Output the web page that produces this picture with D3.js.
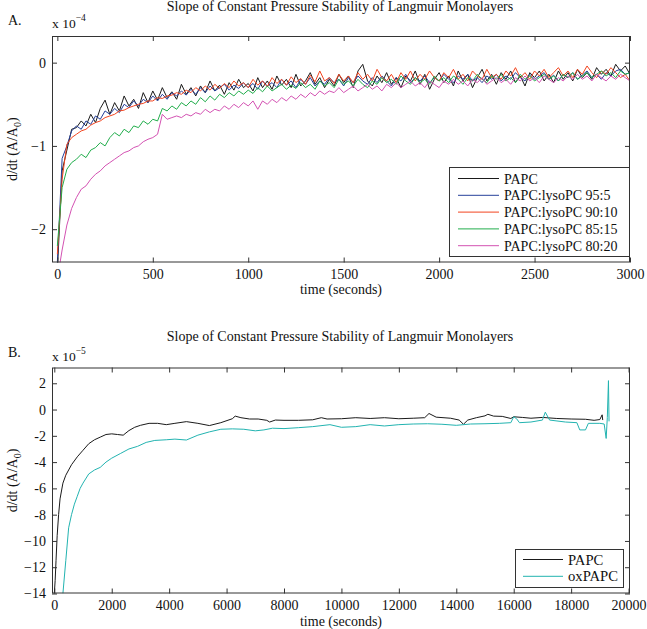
<!DOCTYPE html>
<html><head><meta charset="utf-8">
<script src="https://cdn.jsdelivr.net/npm/d3@7"></script>
<style>
body{margin:0;background:#fff;}
svg{display:block;font-family:"Liberation Serif","Times New Roman",serif;}
</style></head>
<body>
<svg id="c" width="647" height="629"></svg>
<script>
// ---------- Panel A data (units of 1e-4), time step 25 s from 0 to 3000 ----------
const timeA = [0,25,50,75,100,125,150,175,200,225,250,275,300,325,350,375,400,425,450,475,500,525,550,575,600,625,650,675,700,725,750,775,800,825,850,875,900,925,950,975,1000,1025,1050,1075,1100,1125,1150,1175,1200,1225,1250,1275,1300,1325,1350,1375,1400,1425,1450,1475,1500,1525,1550,1575,1600,1625,1650,1675,1700,1725,1750,1775,1800,1825,1850,1875,1900,1925,1950,1975,2000,2025,2050,2075,2100,2125,2150,2175,2200,2225,2250,2275,2300,2325,2350,2375,2400,2425,2450,2475,2500,2525,2550,2575,2600,2625,2650,2675,2700,2725,2750,2775,2800,2825,2850,2875,2900,2925,2950,2975,3000];
const papcA = [-2.5,-1.3,-1.05,-0.80,-0.78,-0.70,-0.76,-0.62,-0.72,-0.55,-0.45,-0.62,-0.48,-0.58,-0.40,-0.52,-0.44,-0.55,-0.36,-0.48,-0.34,-0.45,-0.30,-0.42,-0.35,-0.44,-0.26,-0.38,-0.30,-0.40,-0.28,-0.36,-0.22,-0.34,-0.27,-0.38,-0.24,-0.33,-0.20,-0.30,-0.25,-0.34,-0.18,-0.30,-0.22,-0.32,-0.16,-0.27,-0.20,-0.30,-0.14,-0.28,-0.22,-0.12,-0.26,-0.18,-0.30,-0.20,-0.28,-0.14,-0.24,-0.16,-0.30,-0.10,-0.02,-0.22,-0.28,-0.16,-0.24,-0.12,-0.26,-0.18,-0.30,-0.16,-0.22,-0.10,-0.26,-0.14,-0.32,-0.20,-0.12,-0.24,-0.16,-0.28,-0.10,-0.22,-0.14,-0.30,-0.18,-0.08,-0.22,-0.14,-0.26,-0.12,-0.20,-0.10,-0.24,-0.16,-0.28,-0.12,-0.18,-0.10,-0.22,-0.14,-0.24,-0.10,-0.20,-0.12,-0.22,-0.08,-0.18,-0.12,-0.20,-0.06,-0.14,-0.08,-0.16,-0.02,-0.10,-0.04,-0.14];
const lyso95 = [-2.4,-1.15,-1.0,-0.82,-0.76,-0.80,-0.70,-0.74,-0.64,-0.68,-0.58,-0.62,-0.55,-0.60,-0.50,-0.54,-0.46,-0.52,-0.44,-0.48,-0.40,-0.46,-0.38,-0.44,-0.36,-0.40,-0.34,-0.39,-0.32,-0.38,-0.30,-0.36,-0.28,-0.34,-0.30,-0.26,-0.33,-0.27,-0.31,-0.24,-0.30,-0.25,-0.32,-0.22,-0.28,-0.24,-0.30,-0.20,-0.27,-0.22,-0.30,-0.20,-0.26,-0.18,-0.28,-0.22,-0.26,-0.18,-0.24,-0.20,-0.28,-0.18,-0.24,-0.16,-0.22,-0.26,-0.18,-0.24,-0.16,-0.22,-0.28,-0.18,-0.22,-0.14,-0.24,-0.18,-0.22,-0.16,-0.24,-0.18,-0.22,-0.14,-0.20,-0.24,-0.16,-0.20,-0.14,-0.22,-0.18,-0.24,-0.16,-0.20,-0.14,-0.22,-0.16,-0.20,-0.12,-0.18,-0.22,-0.14,-0.20,-0.16,-0.12,-0.20,-0.15,-0.22,-0.14,-0.18,-0.12,-0.20,-0.15,-0.10,-0.18,-0.14,-0.20,-0.12,-0.16,-0.10,-0.08,-0.14,-0.12];
const lyso90 = [-2.3,-1.4,-0.98,-0.90,-0.86,-0.82,-0.80,-0.75,-0.72,-0.70,-0.66,-0.64,-0.62,-0.58,-0.57,-0.54,-0.52,-0.50,-0.49,-0.46,-0.46,-0.42,-0.43,-0.40,-0.39,-0.36,-0.38,-0.33,-0.36,-0.30,-0.34,-0.28,-0.33,-0.26,-0.31,-0.25,-0.30,-0.22,-0.28,-0.24,-0.30,-0.20,-0.27,-0.22,-0.29,-0.18,-0.25,-0.20,-0.27,-0.17,-0.24,-0.19,-0.26,-0.15,-0.23,-0.10,-0.22,-0.18,-0.25,-0.14,-0.22,-0.16,-0.24,-0.12,-0.20,-0.14,-0.22,-0.08,-0.18,-0.22,-0.14,-0.24,-0.12,-0.20,-0.10,-0.22,-0.14,-0.20,-0.10,-0.18,-0.22,-0.12,-0.18,-0.08,-0.20,-0.14,-0.22,-0.10,-0.16,-0.20,-0.08,-0.18,-0.14,-0.20,-0.10,-0.16,-0.06,-0.18,-0.12,-0.20,-0.10,-0.16,-0.08,-0.18,-0.12,-0.06,-0.16,-0.10,-0.18,-0.08,-0.14,-0.04,-0.12,-0.18,-0.10,-0.14,-0.06,-0.12,-0.18,-0.14,-0.22];
const lyso85 = [-2.2,-1.5,-1.28,-1.20,-1.16,-1.10,-1.14,-1.05,-1.02,-0.96,-1.00,-0.90,-0.84,-0.88,-0.80,-0.84,-0.76,-0.78,-0.70,-0.74,-0.68,-0.70,-0.55,-0.58,-0.52,-0.56,-0.48,-0.52,-0.46,-0.50,-0.42,-0.47,-0.40,-0.45,-0.38,-0.42,-0.36,-0.40,-0.34,-0.38,-0.33,-0.37,-0.30,-0.35,-0.28,-0.34,-0.30,-0.26,-0.32,-0.27,-0.31,-0.24,-0.30,-0.26,-0.32,-0.22,-0.28,-0.24,-0.30,-0.20,-0.26,-0.22,-0.28,-0.20,-0.26,-0.30,-0.22,-0.26,-0.18,-0.24,-0.20,-0.26,-0.16,-0.22,-0.26,-0.18,-0.24,-0.20,-0.26,-0.16,-0.22,-0.18,-0.24,-0.16,-0.20,-0.26,-0.18,-0.22,-0.14,-0.20,-0.24,-0.16,-0.20,-0.14,-0.22,-0.18,-0.24,-0.14,-0.20,-0.16,-0.22,-0.18,-0.14,-0.20,-0.16,-0.22,-0.14,-0.18,-0.12,-0.20,-0.16,-0.12,-0.18,-0.14,-0.10,-0.16,-0.12,-0.18,-0.10,-0.14,-0.12];
const lyso80 = [-2.6,-2.25,-1.95,-1.75,-1.62,-1.52,-1.48,-1.40,-1.34,-1.30,-1.24,-1.20,-1.16,-1.12,-1.08,-1.06,-1.02,-1.00,-0.95,-0.92,-0.90,-0.86,-0.62,-0.68,-0.66,-0.64,-0.66,-0.62,-0.64,-0.60,-0.62,-0.56,-0.60,-0.56,-0.58,-0.52,-0.56,-0.50,-0.54,-0.48,-0.52,-0.46,-0.56,-0.46,-0.50,-0.44,-0.48,-0.42,-0.46,-0.40,-0.44,-0.38,-0.42,-0.36,-0.40,-0.34,-0.38,-0.34,-0.36,-0.30,-0.36,-0.32,-0.28,-0.34,-0.30,-0.26,-0.32,-0.28,-0.34,-0.26,-0.30,-0.24,-0.30,-0.26,-0.22,-0.28,-0.24,-0.30,-0.22,-0.26,-0.30,-0.22,-0.26,-0.20,-0.26,-0.22,-0.28,-0.20,-0.24,-0.18,-0.26,-0.22,-0.18,-0.24,-0.20,-0.26,-0.18,-0.22,-0.16,-0.22,-0.18,-0.24,-0.16,-0.20,-0.24,-0.18,-0.22,-0.16,-0.20,-0.14,-0.20,-0.16,-0.22,-0.14,-0.18,-0.22,-0.16,-0.20,-0.14,-0.18,-0.22];
const namesA = ["PAPC","PAPC:lysoPC 95:5","PAPC:lysoPC 90:10","PAPC:lysoPC 85:15","PAPC:lysoPC 80:20"];
const colorsA = ["#1a1a1a","#26409a","#f2441f","#22ad4c","#d352b2"];
const xTicksA = [0,500,1000,1500,2000,2500,3000];
const yTicksA = [0,-1,-2];

// ---------- Panel B data (units of 1e-5) ----------
const timeB_papc = [0,30,60,100,150,200,250,300,400,500,600,800,1000,1200,1400,1600,1800,2000,2200,2400,2600,2800,3000,3300,3600,3900,4200,4600,5000,5400,5800,6200,6300,6500,6800,7100,7400,7500,7700,8000,8500,9000,9300,9500,10000,10500,11000,11500,12000,12500,12900,13050,13300,13800,14100,14250,14400,14700,15000,15100,15300,15600,15900,16000,16300,16600,17000,17500,18000,18500,18800,19000,19080,19100];
const papcB = [-14,-13,-11.5,-9.6,-8,-6.8,-6.2,-5.6,-5,-4.6,-4.2,-3.6,-3.1,-2.6,-2.3,-2.1,-1.9,-1.85,-1.9,-1.95,-1.6,-1.35,-1.2,-1.05,-1.05,-1.15,-1.05,-0.92,-1.05,-1.22,-1.0,-0.7,-0.5,-0.62,-0.72,-0.72,-0.82,-0.95,-0.8,-0.82,-0.82,-0.78,-0.62,-0.72,-0.7,-0.62,-0.68,-0.62,-0.7,-0.66,-0.62,-0.3,-0.58,-0.66,-0.8,-1.12,-0.8,-0.62,-0.48,-0.36,-0.5,-0.52,-0.68,-0.55,-0.6,-0.66,-0.6,-0.68,-0.72,-0.74,-0.82,-0.76,-0.4,-0.8];
const timeB_ox = [300,400,500,600,700,800,900,1000,1200,1400,1600,1800,2000,2300,2600,2900,3200,3500,3900,4200,4600,5000,5400,5800,6200,6600,7000,7300,7600,8000,8500,9000,9600,10000,10500,11000,11500,12000,12500,13000,13500,14000,14500,15000,15500,15900,16000,16100,16200,16600,17000,17100,17250,17800,18200,18300,18500,18600,19000,19150,19220,19260,19300,19320];
const oxB = [-14,-11.5,-9,-8,-7.2,-6.6,-6.0,-5.6,-4.9,-4.6,-4.4,-4.0,-3.7,-3.35,-3.0,-2.8,-2.5,-2.35,-2.3,-2.25,-2.32,-1.95,-1.7,-1.5,-1.47,-1.5,-1.62,-1.55,-1.42,-1.45,-1.38,-1.3,-1.15,-1.35,-1.3,-1.15,-1.25,-1.15,-1.1,-1.08,-1.12,-1.2,-1.1,-1.08,-1.05,-1.0,-0.55,-0.7,-1.0,-0.95,-0.8,-0.2,-0.8,-0.95,-1.0,-1.55,-1.55,-1.05,-1.05,-1.1,-2.2,-0.6,2.2,-0.9];
const namesB = ["PAPC","oxPAPC"];
const colorsB = ["#1a1a1a","#22b3b0"];
const xTicksB = [0,2000,4000,6000,8000,10000,12000,14000,16000,18000,20000];
const yTicksB = [2,0,-2,-4,-6,-8,-10,-12,-14];

const title = "Slope of Constant Pressure Stability of Langmuir Monolayers";

const svg = d3.select("#c");
const AX = "#333";
const FONT = '"Liberation Serif","Times New Roman",serif';

// scale a text's font-size so its rendered width equals a target width
function fit(sel, size, target){
  sel.style("font-size", size+"px");
  const len = sel.node().getComputedTextLength();
  if (len > 0 && Math.abs(len-target)/target > 0.04) {
    sel.style("font-size", (size*target/len).toFixed(2)+"px");
  }
}

function panel(cfg){
  const g = svg.append("g");
  const {L,R,T,B} = cfg;
  const x = d3.scaleLinear().domain(cfg.xDom).range([L,R]);
  const y = d3.scaleLinear().domain(cfg.yDom).range([B,T]);
  const clipId = "clip"+cfg.id;
  svg.append("clipPath").attr("id",clipId).append("rect")
    .attr("x",L).attr("y",T).attr("width",R-L).attr("height",B-T);

  const line = d3.line().x(d=>x(d[0])).y(d=>y(d[1]));
  const lg = g.append("g").attr("clip-path",`url(#${clipId})`);
  cfg.series.forEach(s=>{
    const pts = s.t.map((t,i)=>[t,s.v[i]]);
    lg.append("path").attr("d",line(pts)).attr("fill","none")
      .attr("stroke",s.c).attr("stroke-width",1).attr("stroke-linejoin","round");
  });

  const ax = g.append("g").attr("transform",`translate(0,${B})`)
    .call(d3.axisBottom(x).tickValues(cfg.xTicks).tickSizeInner(-5).tickSizeOuter(0).tickPadding(7).tickFormat(d3.format("d")));
  const axT = g.append("g").attr("transform",`translate(0,${T})`)
    .call(d3.axisTop(x).tickValues(cfg.xTicks).tickSizeInner(-5).tickSizeOuter(0).tickFormat(""));
  const ay = g.append("g").attr("transform",`translate(${L},0)`)
    .call(d3.axisLeft(y).tickValues(cfg.yTicks).tickSizeInner(-5).tickSizeOuter(0).tickPadding(6).tickFormat(cfg.fmt));
  const ayR = g.append("g").attr("transform",`translate(${R},0)`)
    .call(d3.axisRight(y).tickValues(cfg.yTicks).tickSizeInner(-5).tickSizeOuter(0).tickFormat(""));
  [ax,axT,ay,ayR].forEach(a=>{
    a.attr("font-family",FONT);
    a.select(".domain").remove();
    a.selectAll("line").attr("stroke",AX);
    a.selectAll("text").attr("fill","#111").style("font-size","14px").style("font-family",FONT);
  });
  g.append("rect").attr("x",L+0.5).attr("y",T+0.5).attr("width",R-L-1).attr("height",B-T-1)
    .attr("fill","none").attr("stroke",AX).attr("stroke-width",1);

  const tt = g.append("text").attr("x",340).attr("y",cfg.titleY).attr("text-anchor","middle")
    .attr("fill","#111").text(title);
  fit(tt, 14, 347);
  g.append("text").attr("x",8).attr("y",cfg.letterY).style("font-size","14px").attr("fill","#111").text(cfg.letter);
  const mult = g.append("text").attr("x",L).attr("y",cfg.multY).style("font-size","13.5px").attr("fill","#111");
  mult.append("tspan").text("x 10");
  mult.append("tspan").attr("dy",-7).style("font-size","9.5px").text(cfg.exp);
  const xl = g.append("text").attr("x",341).attr("y",cfg.xlabY).attr("text-anchor","middle")
    .attr("fill","#111").text("time (seconds)");
  fit(xl, 14, 82);
  const yl = g.append("text").attr("transform",`translate(17,${(T+B)/2}) rotate(-90)`)
    .attr("text-anchor","middle").style("font-size","14px").attr("fill","#111");
  yl.append("tspan").text("d/dt (A/A");
  yl.append("tspan").attr("dy",4).style("font-size","10px").text("0");
  yl.append("tspan").attr("dy",-4).text(")");

  const lgd = cfg.legend;
  const lgG = g.append("g");
  lgG.append("rect").attr("x",lgd.x+0.5).attr("y",lgd.y+0.5).attr("width",lgd.w).attr("height",lgd.h)
    .attr("fill","#fff").attr("stroke",AX).attr("stroke-width",1);
  const texts = [];
  cfg.series.forEach((s,i)=>{
    const ry = lgd.y + lgd.first + i*lgd.step;
    lgG.append("line").attr("x1",lgd.x+lgd.l1).attr("x2",lgd.x+lgd.l2).attr("y1",ry).attr("y2",ry)
      .attr("stroke",s.c).attr("stroke-width",1);
    texts.push(lgG.append("text").attr("x",lgd.x+lgd.tx).attr("y",ry+5).style("font-size","14px").attr("fill","#111").text(s.n));
  });
  // keep legend text at the reference's measured width
  const probe = texts[lgd.probe];
  fit(probe, 14, lgd.probeW);
  const fs = probe.style("font-size");
  texts.forEach(t=>t.style("font-size",fs));
}

const minusFmt = d => d<0 ? "\u2212"+Math.abs(d) : String(d);
const fmtB = d => (d<0 && d>-10) ? "-"+Math.abs(d) : minusFmt(d);

panel({
  id:"A", L:52, R:630, T:36, B:262.5,
  xDom:[-28,3000], yDom:[-2.4,0.32],
  xTicks:xTicksA, yTicks:yTicksA, fmt:minusFmt,
  series:[papcA,lyso95,lyso90,lyso85,lyso80].map((v,i)=>({t:timeA,v:v,c:colorsA[i],n:namesA[i]})),
  titleY:11, letter:"A.", letterY:25, multY:28, exp:"\u22124", xlabY:294,
  legend:{x:449,y:167,w:180,h:89,first:11.5,step:16.8,l1:9,l2:50,tx:55,probe:1,probeW:108}
});

panel({
  id:"B", L:52, R:630, T:367.5, B:593.5,
  xDom:[-80,20050], yDom:[-14,3.2],
  xTicks:xTicksB, yTicks:yTicksB, fmt:fmtB,
  series:[{t:timeB_papc,v:papcB,c:colorsB[0],n:namesB[0]},{t:timeB_ox,v:oxB,c:colorsB[1],n:namesB[1]}],
  titleY:341, letter:"B.", letterY:357, multY:361, exp:"\u22125", xlabY:626,
  legend:{x:515,y:549,w:108,h:38,first:10.5,step:16.8,l1:8,l2:48,tx:53,probe:1,probeW:50}
});
</script>
</body></html>
